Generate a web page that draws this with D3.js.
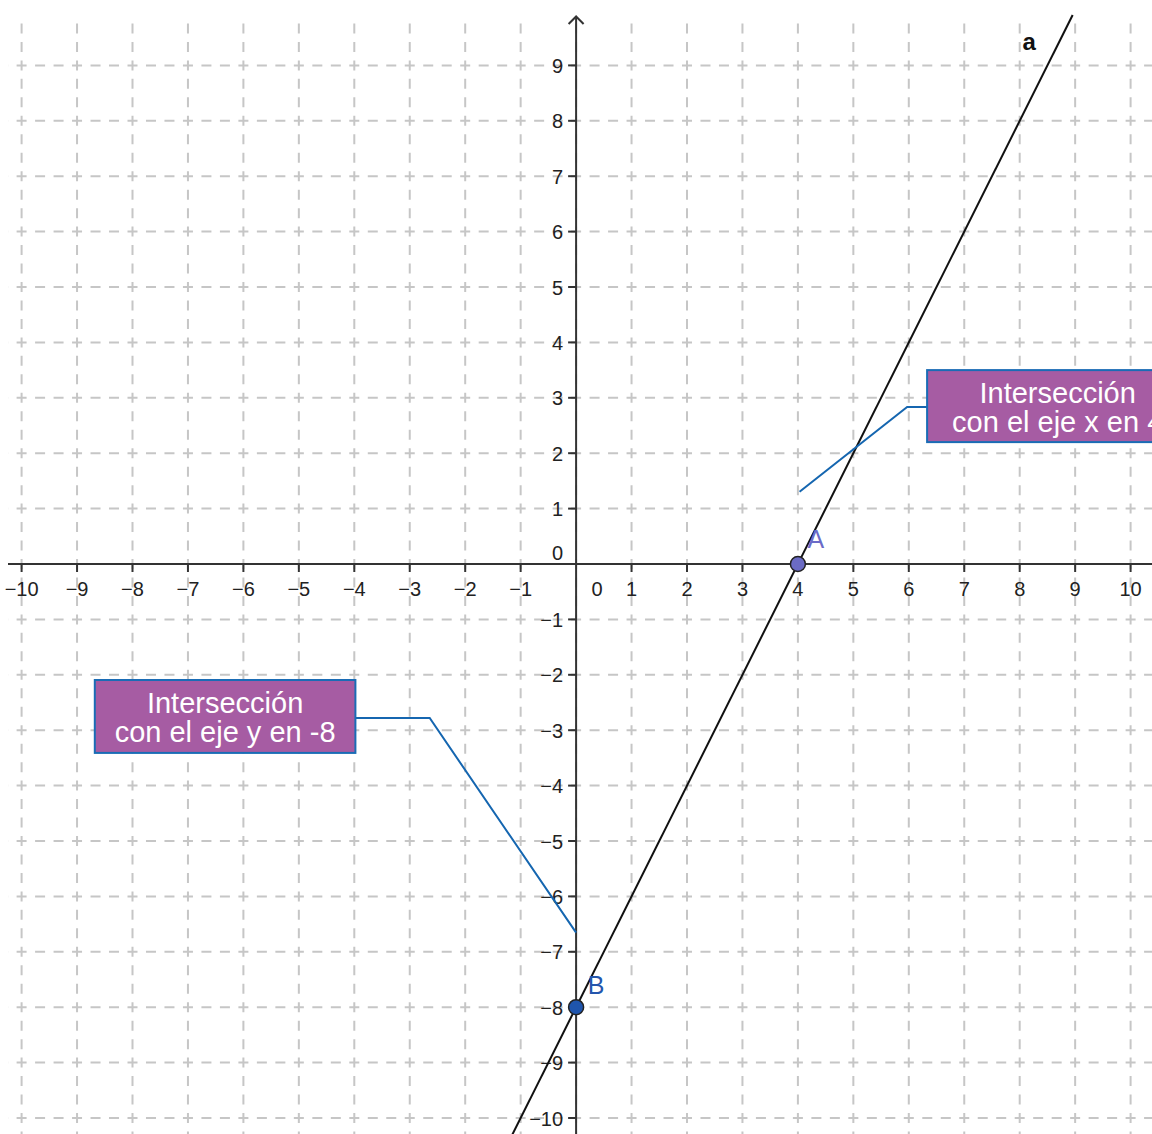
<!DOCTYPE html>
<html>
<head>
<meta charset="utf-8">
<script src="https://cdn.jsdelivr.net/npm/d3@7"></script>
<style>
  html, body { margin: 0; padding: 0; background: #fff; }
  svg { display: block; }
  text { font-family: "Liberation Sans", Arial, sans-serif; }
</style>
</head>
<body>
<svg id="chart" width="1152" height="1134"></svg>
<script>
// ---- data ----
const xTicks = [-10,-9,-8,-7,-6,-5,-4,-3,-2,-1,0,1,2,3,4,5,6,7,8,9,10];
const yTicks = [-10,-9,-8,-7,-6,-5,-4,-3,-2,-1,0,1,2,3,4,5,6,7,8,9];
// line a: y = 2x - 8
const lineSlope = 2;
const lineIntercept = -8;
const lineName = "a";
const lineXRange = [-1.3, 8.955];
const points = [
  { name: "A", x: 4, y: 0 },
  { name: "B", x: 0, y: -8 }
];
const annotations = [
  { lines: ["Intersección", "con el eje y en -8"], box: [-8.68, -2.094, -3.98, -3.41],
    leader: [[-3.98, -2.78], [-2.64, -2.78], [0, -6.655]] },
  { lines: ["Intersección", "con el eje x en 4"], box: [6.33, 3.50, 11.04, 2.20],
    leader: [[6.33, 2.834], [5.97, 2.834], [4.03, 1.305]] }
];

// ---- layout ----
const W = 1152, H = 1134;
const x = d3.scaleLinear().domain([-10, 10]).range([21.6, 1130.6]);
const y = d3.scaleLinear().domain([-10, 9]).range([1118, 65.4]);
const unitX = x(1) - x(0), unitY = y(0) - y(1);
const svg = d3.select("#chart");

svg.append("defs").append("clipPath").attr("id", "gridclip")
  .append("rect").attr("x", 8).attr("y", 15).attr("width", W - 8).attr("height", H - 15);

// grid
const grid = svg.append("g").attr("clip-path", "url(#gridclip)")
  .attr("stroke", "#c6c6c6").attr("stroke-width", 2).attr("fill", "none");
const dash = 10;
const perX = unitX / 3, perY = unitY / 3;
grid.selectAll("line.v").data(xTicks).join("line").attr("class", "v")
  .attr("x1", d => x(d)).attr("x2", d => x(d))
  .attr("y1", y(12) - dash / 2).attr("y2", y(-11))
  .attr("stroke-dasharray", `${dash},${perY - dash}`);
const gx0 = x(-12) - dash / 2;
grid.selectAll("line.h").data(yTicks).join("line").attr("class", "h")
  .attr("y1", d => y(d)).attr("y2", d => y(d))
  .attr("x1", gx0).attr("x2", x(11))
  .attr("stroke-dasharray", `${dash},${perX - dash}`);

// axes
const axisColor = "#333";
const ax = svg.append("g").attr("stroke", axisColor).attr("stroke-width", 2).attr("fill", "none");
ax.append("line").attr("x1", 8).attr("x2", W).attr("y1", y(0)).attr("y2", y(0));
ax.append("line").attr("x1", x(0)).attr("x2", x(0)).attr("y1", H).attr("y2", 17);
ax.append("path").attr("d", `M${x(0) - 7.5},24 L${x(0)},16.5 L${x(0) + 7.5},24`);
ax.selectAll("line.xt").data(xTicks.filter(d => d !== 0)).join("line")
  .attr("x1", d => x(d)).attr("x2", d => x(d)).attr("y1", y(0)).attr("y2", y(0) + 8);
ax.selectAll("line.yt").data(yTicks.filter(d => d !== 0)).join("line")
  .attr("y1", d => y(d)).attr("y2", d => y(d)).attr("x1", x(0) - 8).attr("x2", x(0));

const fmt = d => (d < 0 ? "\u2212" + Math.abs(d) : String(d));
const lbl = svg.append("g").attr("fill", "#222").attr("font-size", 20);
lbl.selectAll("text.xl").data(xTicks).join("text")
  .attr("x", d => d === 0 ? x(0) + 21 : x(d)).attr("y", y(0) + 32)
  .attr("text-anchor", "middle").text(fmt);
lbl.selectAll("text.yl").data(yTicks).join("text")
  .attr("x", x(0) - 13).attr("y", d => d === 0 ? y(0) - 4 : y(d) + 7.5)
  .attr("text-anchor", "end").text(fmt);

// line a
const fy = v => lineSlope * v + lineIntercept;
svg.append("line")
  .attr("x1", x(lineXRange[0])).attr("y1", y(fy(lineXRange[0])))
  .attr("x2", x(lineXRange[1])).attr("y2", y(fy(lineXRange[1])))
  .attr("stroke", "#111").attr("stroke-width", 2);
svg.append("text").attr("x", x(8.17)).attr("y", y(9.28))
  .attr("font-size", 24).attr("font-weight", "bold").attr("fill", "#111")
  .attr("text-anchor", "middle").text(lineName);

// annotations
annotations.forEach(a => {
  const [bx0, by0, bx1, by1] = a.box;
  svg.append("path")
    .attr("d", d3.line().x(p => x(p[0])).y(p => y(p[1]))(a.leader))
    .attr("fill", "none").attr("stroke", "#1566b0").attr("stroke-width", 2);
  svg.append("rect")
    .attr("x", x(bx0)).attr("y", y(by0))
    .attr("width", x(bx1) - x(bx0)).attr("height", y(by1) - y(by0))
    .attr("fill", "#a65ca3").attr("stroke", "#1a6cb5").attr("stroke-width", 2);
  const cx = (x(bx0) + x(bx1)) / 2;
  a.lines.forEach((t, i) => {
    svg.append("text").attr("x", cx).attr("y", y(by0) + 33 + i * 29)
      .attr("text-anchor", "middle").attr("font-size", 29).attr("fill", "#fff").text(t);
  });
});

// points
const ptStyle = { A: { fill: "#6b6bc4", label: "#6b6bc8", dx: 18, dy: -16 },
                  B: { fill: "#1f55ad", label: "#2456ad", dx: 20, dy: -13 } };
points.forEach(p => {
  const s = ptStyle[p.name];
  svg.append("circle").attr("cx", x(p.x)).attr("cy", y(p.y)).attr("r", 7.5)
    .attr("fill", s.fill).attr("stroke", "#222").attr("stroke-width", 1.5);
  svg.append("text").attr("x", x(p.x) + s.dx).attr("y", y(p.y) + s.dy)
    .attr("text-anchor", "middle").attr("font-size", 25).attr("fill", s.label).text(p.name);
});
</script>
</body>
</html>
